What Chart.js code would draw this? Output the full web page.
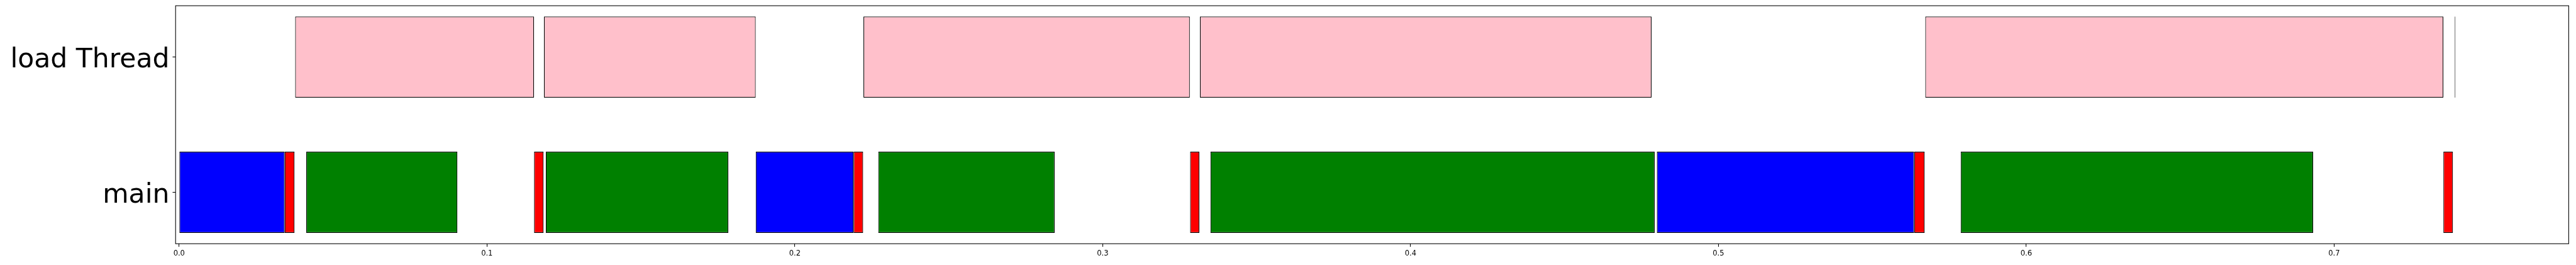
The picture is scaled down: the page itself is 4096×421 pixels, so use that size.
<!DOCTYPE html>
<html>
<head>
<meta charset="utf-8">
<script src="https://cdn.jsdelivr.net/npm/chart.js@4/dist/chart.umd.min.js"></script>
<style>
  html, body { margin: 0; padding: 0; background: #fff; }
  #wrap { width: 4096px; height: 421px; position: relative; }
</style>
</head>
<body>
<div id="wrap"><canvas id="myChart"></canvas></div>
<script>
// rows of the timeline (0 = bottom row)
var threadNames = ["main", "load Thread"];
var xTickValues = [0, 0.1, 0.2, 0.3, 0.4, 0.5, 0.6, 0.7];

// [start, end] in seconds
var mainBlue = [[0, 0.0343], [0.1873, 0.2191], [0.4800, 0.5636]];
var mainRed = [[0.0343, 0.0375], [0.1153, 0.1184], [0.2191, 0.2222], [0.3284, 0.3314], [0.5636, 0.5670], [0.7355, 0.7386]];
var mainGreen = [[0.0413, 0.0904], [0.1191, 0.1784], [0.2271, 0.2844], [0.3350, 0.4793], [0.5787, 0.6932]];
var loadPink = [[0.0377, 0.1153], [0.1185, 0.1873], [0.2223, 0.3283], [0.3316, 0.4783], [0.5672, 0.7355], [0.7392, 0.7394]];

var S = 0.982;

function toPoints(spans, row) {
    return spans.map(function (s) { return { x: s, y: row }; });
}

function makeSet(spans, row, color) {
    return {
        data: toPoints(spans, row),
        backgroundColor: color,
        borderColor: "#000000",
        borderWidth: 1.2,
        borderSkipped: false,
        grouped: false,
        categoryPercentage: 1,
        barPercentage: 0.6
    };
}

function noPad(scale) {
    scale.paddingTop = 0;
    scale.paddingBottom = 0;
    scale.paddingLeft = 0;
    scale.paddingRight = 0;
}

//frame around the plot area
var framePlugin = {
    id: "frame",
    afterDraw: function (chart) {
        var a = chart.chartArea;
        var ctx = chart.ctx;
        ctx.save();
        ctx.strokeStyle = "#000000";
        ctx.lineWidth = 1.1 * S;
        ctx.strokeRect(a.left, a.top, a.right - a.left, a.bottom - a.top);
        ctx.restore();
    }
};

var ctx = document.getElementById("myChart").getContext("2d");
var timeline = new Chart(ctx, {
    type: "bar",
    data: {
        datasets: [
            makeSet(mainBlue, 0, "#0000ff"),
            makeSet(mainRed, 0, "#ff0000"),
            makeSet(mainGreen, 0, "#008000"),
            makeSet(loadPink, 1, "#ffc0cb")
        ]
    },
    options: {
        indexAxis: "y",
        responsive: true,
        maintainAspectRatio: false,
        animation: false,
        layout: { padding: { top: 9.1, right: 11.6, left: 0, bottom: 0 } },
        plugins: {
            legend: { display: false },
            tooltip: { enabled: false }
        },
        scales: {
            x: {
                type: "linear",
                min: -0.00114,
                max: 0.7762,
                offset: false,
                afterBuildTicks: function (scale) {
                    scale.ticks = xTickValues.map(function (v) { return { value: v }; });
                },
                afterFit: function (scale) {
                    scale.height = 421 - 387.2;
                    noPad(scale);
                },
                border: { display: false },
                grid: {
                    offset: false,
                    drawOnChartArea: false,
                    drawTicks: true,
                    tickLength: 4.8,
                    tickWidth: 1.1 * S,
                    tickColor: "#000000"
                },
                ticks: {
                    color: "#000000",
                    padding: 4.5,
                    maxRotation: 0,
                    autoSkip: false,
                    font: { family: "DejaVu Sans", size: 11.5 },
                    callback: function (v) { return Number(v).toFixed(1); }
                }
            },
            y: {
                type: "linear",
                min: -0.38,
                max: 1.38,
                offset: false,
                afterBuildTicks: function (scale) {
                    scale.ticks = threadNames.map(function (n, i) { return { value: i }; });
                },
                afterFit: function (scale) {
                    scale.width = 279.2;
                    noPad(scale);
                },
                border: { display: false },
                grid: {
                    offset: false,
                    drawOnChartArea: false,
                    drawTicks: true,
                    tickLength: 4.8,
                    tickWidth: 1.1 * S,
                    tickColor: "#000000"
                },
                ticks: {
                    color: "#000000",
                    padding: 5,
                    labelOffset: 5,
                    autoSkip: false,
                    font: { family: "DejaVu Sans", size: 42.5 },
                    callback: function (v) { return threadNames[v]; }
                }
            }
        }
    },
    plugins: [framePlugin]
});
</script>
</body>
</html>
